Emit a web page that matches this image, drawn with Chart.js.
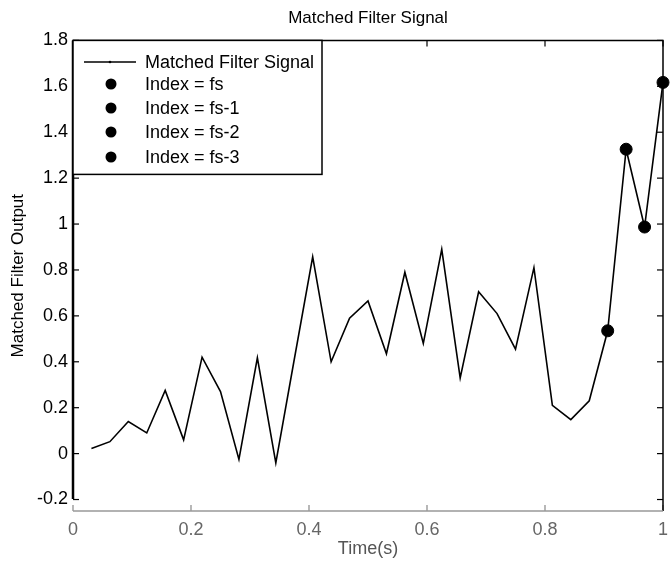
<!DOCTYPE html>
<html><head><meta charset="utf-8">
<script src="https://cdn.jsdelivr.net/npm/chart.js@4/dist/chart.umd.min.js"></script>
<style>html,body{margin:0;padding:0;background:#fff}#wrap{width:670px;height:563px;position:relative}</style>
</head><body><div id="wrap"><canvas id="c" width="670" height="563"></canvas></div>
<script>
const chartTitle = 'Matched Filter Signal';
const xTitle = 'Time(s)';
const yTitle = 'Matched Filter Output';
const times = [0.03125,0.0625,0.09375,0.125,0.15625,0.1875,0.21875,0.25,0.28125,0.3125,0.34375,0.375,0.40625,0.4375,0.46875,0.5,0.53125,0.5625,0.59375,0.625,0.65625,0.6875,0.71875,0.75,0.78125,0.8125,0.84375,0.875,0.90625,0.9375,0.96875,1.0];
const signal = [0.022,0.052,0.14,0.09,0.275,0.06,0.42,0.27,-0.025,0.417,-0.04,0.41,0.857,0.40,0.59,0.665,0.435,0.79,0.48,0.89,0.33,0.705,0.61,0.455,0.81,0.21,0.148,0.23,0.535,1.326,0.987,1.617];
const markerLabels = ['Index = fs','Index = fs-1','Index = fs-2','Index = fs-3'];
const markerIndex = [31,30,29,28];
const xTicks = [0,0.2,0.4,0.6,0.8,1];
const yTicks = [-0.2,0,0.2,0.4,0.6,0.8,1,1.2,1.4,1.6,1.8];
const FONT = '"Liberation Sans", Arial, Helvetica, sans-serif';

const fmt = v => String(Math.round(v*10)/10);

const datasets = [{
  label: 'Matched Filter Signal',
  data: times.map((t,i)=>({x:t,y:signal[i]})),
  borderColor:'#000', borderWidth:1.6, pointRadius:0, tension:0, fill:false, clip:false
}];
markerLabels.forEach((lab,k)=>{
  const i = markerIndex[k];
  datasets.push({label:lab, data:[{x:times[i],y:signal[i]}], showLine:false,
    pointRadius:6, pointBackgroundColor:'#000', pointBorderColor:'#000', clip:false});
});

const framePlugin = {
  id:'frame',
  afterDatasetsDraw(chart){
    const {ctx, chartArea:a, scales:{x,y}} = chart;
    ctx.save();
    const L=6;
    ctx.strokeStyle='#000'; ctx.lineWidth=1.2;
    yTicks.forEach(v=>{const p=y.getPixelForValue(v);
      ctx.beginPath();ctx.moveTo(a.left,p);ctx.lineTo(a.left+L,p);ctx.stroke();
      ctx.beginPath();ctx.moveTo(a.right,p);ctx.lineTo(a.right-L,p);ctx.stroke();});
    xTicks.forEach(v=>{const p=x.getPixelForValue(v);
      ctx.strokeStyle='#000';
      ctx.beginPath();ctx.moveTo(p,a.top);ctx.lineTo(p,a.top+L);ctx.stroke();
      ctx.strokeStyle='#888';
      ctx.beginPath();ctx.moveTo(p,a.bottom);ctx.lineTo(p,a.bottom-L);ctx.stroke();});
    ctx.strokeStyle='#000'; ctx.lineWidth=1.5;
    ctx.beginPath();ctx.moveTo(a.left,a.top);ctx.lineTo(a.right,a.top);ctx.lineTo(a.right,a.bottom);ctx.stroke();
    ctx.strokeStyle='#999';
    ctx.beginPath();ctx.moveTo(a.left,a.bottom);ctx.lineTo(a.right,a.bottom);ctx.stroke();
    ctx.strokeStyle='#000'; ctx.lineWidth=2.5;
    ctx.beginPath();ctx.moveTo(a.left,a.top);ctx.lineTo(a.left,a.bottom-12);ctx.stroke();
    ctx.restore();
  },
  afterDraw(chart){
    const {ctx, chartArea:a} = chart;
    ctx.save();
    const bx=a.left, by=a.top, bw=249, bh=134;
    ctx.fillStyle='#fff'; ctx.fillRect(bx,by,bw,bh);
    ctx.strokeStyle='#000'; ctx.lineWidth=1.5; ctx.strokeRect(bx,by,bw,bh);
    const rows=[62,84,108,132,157];
    ctx.font='18px '+FONT; ctx.fillStyle='#000'; ctx.textBaseline='middle'; ctx.textAlign='left';
    chart.data.datasets.forEach((ds,i)=>{
      const yy=rows[i];
      if(i===0){
        ctx.lineWidth=1.5; ctx.beginPath(); ctx.moveTo(84,yy); ctx.lineTo(136,yy); ctx.stroke();
        ctx.beginPath(); ctx.arc(110,yy,1.3,0,Math.PI*2); ctx.fill();
      } else {
        ctx.beginPath(); ctx.arc(111,yy,5.5,0,Math.PI*2); ctx.fill();
      }
      ctx.fillText(ds.label,145,yy+1);
    });
    ctx.restore();
  }
};

new Chart(document.getElementById('c'),{
  type:'line',
  data:{datasets},
  options:{
    responsive:false, animation:false, devicePixelRatio:1,
    layout:{padding:{left:4,right:3,top:0,bottom:0}},
    plugins:{
      legend:{display:false},
      tooltip:{enabled:false},
      title:{display:true,text:chartTitle,fullSize:false,color:'#000',
        font:{family:FONT,size:17,weight:'normal'},padding:{top:8,bottom:12}}
    },
    scales:{
      x:{type:'linear',min:0,max:1,
        grid:{display:false,drawTicks:false},border:{display:false},
        afterBuildTicks(s){s.ticks=xTicks.map(v=>({value:v}));},
        afterFit(s){s.height=52; s.paddingRight=0; s.paddingLeft=0;},
        ticks:{padding:8,color:'#666',font:{family:FONT,size:18},callback:v=>fmt(v),maxRotation:0},
        title:{display:true,text:xTitle,color:'#555',font:{family:FONT,size:18},padding:{top:4,bottom:3}}
      },
      y:{type:'linear',min:-0.25,max:1.8,
        grid:{display:false,drawTicks:false},border:{display:false},
        afterBuildTicks(s){s.ticks=yTicks.map(v=>({value:v}));},
        afterFit(s){s.width=69;},
        ticks:{padding:5,color:'#000',font:{family:FONT,size:18},callback:v=>fmt(v)},
        title:{display:true,text:yTitle,color:'#000',font:{family:FONT,size:17},padding:{top:4,bottom:4}}
      }
    }
  },
  plugins:[framePlugin]
});
</script>
</body></html>
